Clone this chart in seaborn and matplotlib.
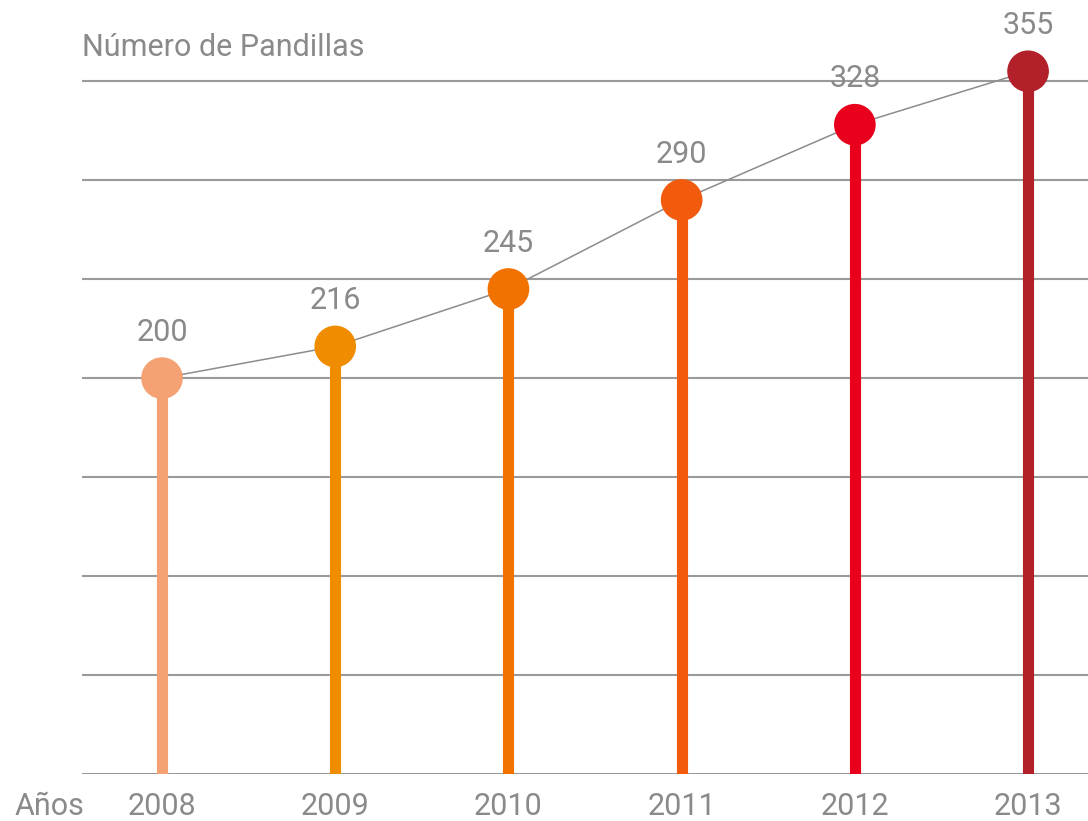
"""Lollipop chart: number of gangs per year."""

import matplotlib

matplotlib.use("Agg")

import matplotlib.pyplot as plt
import pandas as pd
import seaborn as sns

years = [2008, 2009, 2010, 2011, 2012, 2013]
gangs = [200, 216, 245, 290, 328, 355]
colors = ["#F4A274", "#F08C00", "#F27200", "#F25A0E", "#E8001C", "#B2202A"]

TEXT = "#8a8a8a"
GRID = "#9a9a9a"


def main() -> None:
    sns.set_theme(style="white")
    plt.rcParams["font.family"] = ["Roboto", "DejaVu Sans"]

    df = pd.DataFrame({"year": years, "gangs": gangs})

    fig = plt.figure(figsize=(10.88, 8.21), dpi=100)
    ax = fig.add_axes([82 / 1088, 47 / 821, 1 - 82 / 1088, 774 / 821])

    ax.set_ylim(0, 391)
    ax.set_xlim(2007.538, 2013.346)

    for y in range(50, 351, 50):
        ax.axhline(y, color=GRID, lw=1.5, zorder=1)
    ax.axhline(0, color="#8c8c8c", lw=2, zorder=1)

    ax.vlines(df["year"], 0, df["gangs"], colors=colors, lw=8, zorder=2)
    sns.lineplot(data=df, x="year", y="gangs", color="#8c8c8c", lw=1.1,
                 ax=ax, zorder=3)
    sns.scatterplot(data=df, x="year", y="gangs", hue="year", palette=colors,
                    s=900, linewidth=0, legend=False, ax=ax, zorder=4)

    for _, row in df.iterrows():
        ax.annotate(f"{row['gangs']}", (row["year"], row["gangs"]),
                    xytext=(0, 33), textcoords="offset points",
                    ha="center", va="center", fontsize=22, color=TEXT,
                    annotation_clip=False)

    ax.set_xticks(years)
    ax.set_xticklabels([str(y) for y in years], fontsize=22, color=TEXT)
    ax.tick_params(axis="x", length=0, pad=13)
    ax.set_yticks([])
    ax.set_xlabel("")
    ax.set_ylabel("")
    sns.despine(ax=ax, left=True, bottom=True, top=True, right=True)

    fig.text(82 / 1088, 1 - 48 / 821, "Número de Pandillas", fontsize=22,
             color=TEXT, ha="left", va="center")
    fig.text(50 / 1088, 1 - 806 / 821, "Años", fontsize=22, color=TEXT,
             ha="center", va="center")

    fig.savefig("out.png", dpi=100)


if __name__ == "__main__":
    main()
